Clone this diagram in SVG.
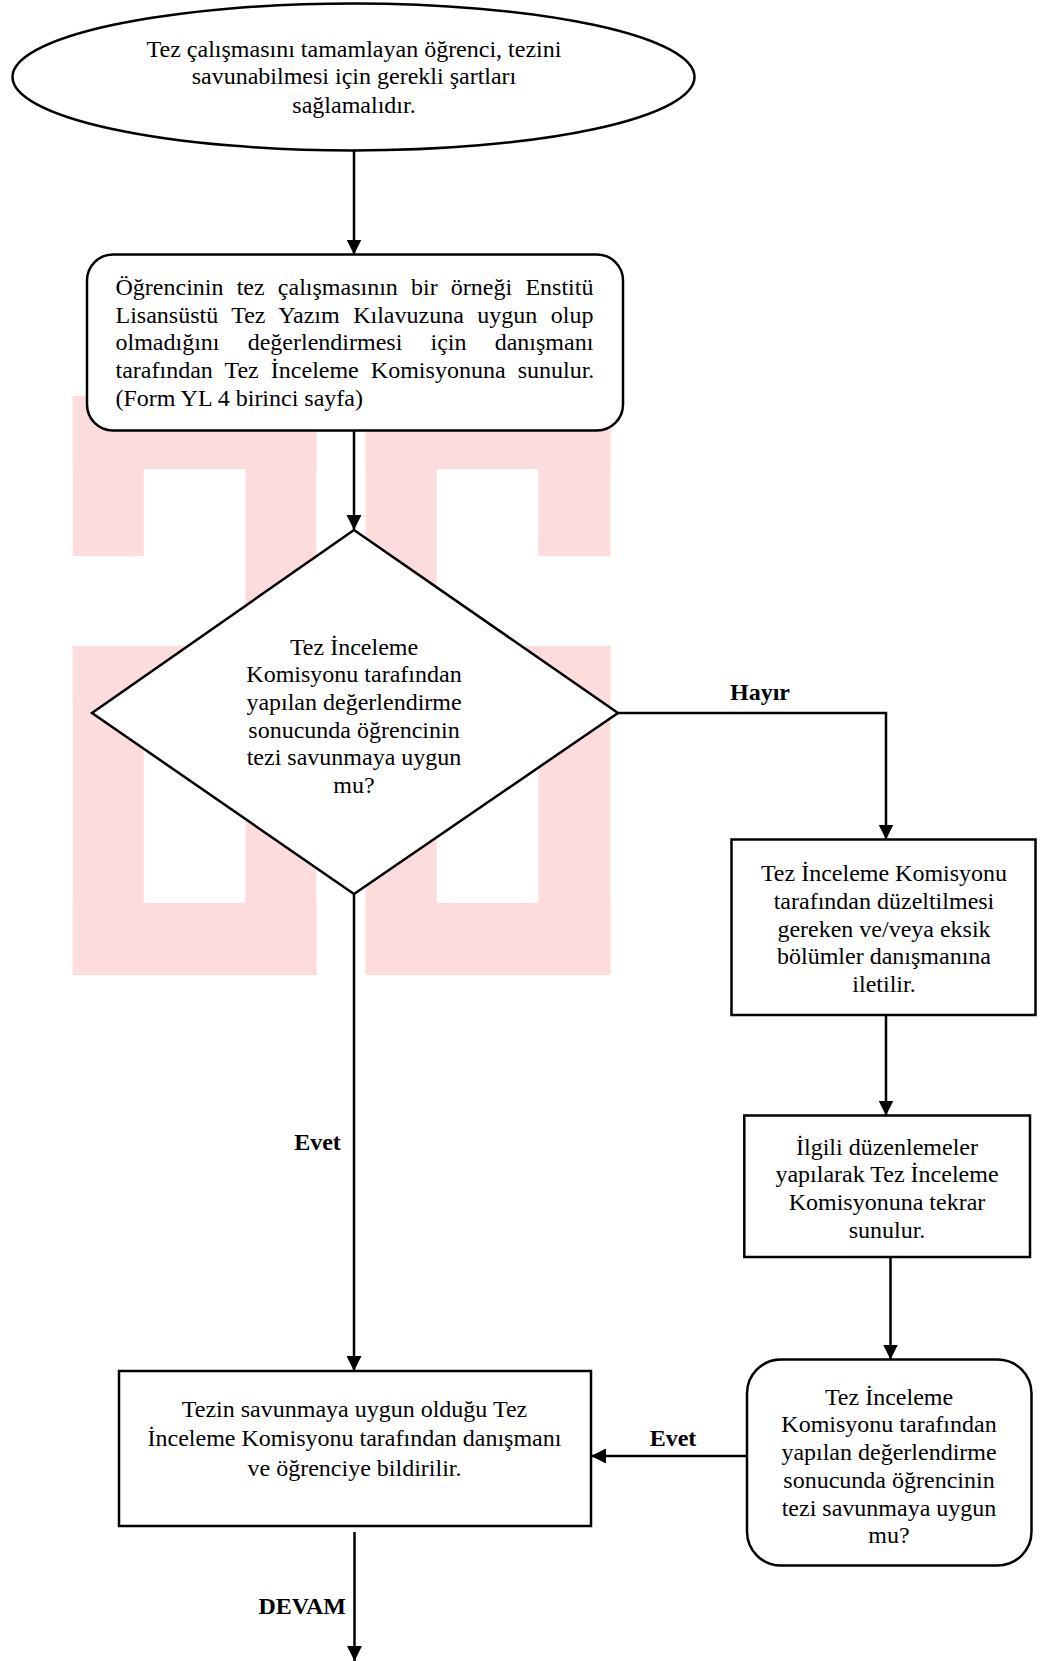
<svg xmlns="http://www.w3.org/2000/svg" width="1046" height="1661" viewBox="0 0 1046 1661">
<style>
.t{font-family:"Liberation Serif","Times New Roman",serif;font-size:24px;fill:#000}
.c{text-anchor:middle}
.b{font-weight:bold}
.shape{fill:#fff;stroke:#000;stroke-width:2.5}
.conn{stroke:#000;stroke-width:2.5;fill:none}
.wm{fill:#fddcdd}
</style>
<defs>
<marker id="ah" markerUnits="userSpaceOnUse" markerWidth="16" markerHeight="16" refX="15" refY="7.5" orient="auto">
<path d="M0,0 L15,7.5 L0,15 z" fill="#000"/>
</marker>
</defs>
<rect width="1046" height="1661" fill="#fff"/>
<g id="watermark">
<rect class="wm" x="72.7" y="396" width="243.7" height="73"/>
<rect class="wm" x="245.5" y="396" width="70.9" height="579"/>
<rect class="wm" x="72.7" y="396" width="70.9" height="160"/>
<rect class="wm" x="72.7" y="646" width="243.7" height="54"/>
<rect class="wm" x="72.7" y="646" width="70.9" height="329"/>
<rect class="wm" x="72.7" y="903" width="243.7" height="72"/>
<rect class="wm" x="365.6" y="396" width="244.8" height="73"/>
<rect class="wm" x="365.6" y="396" width="71.1" height="579"/>
<rect class="wm" x="538.3" y="396" width="72.1" height="160"/>
<rect class="wm" x="365.6" y="646" width="244.8" height="54"/>
<rect class="wm" x="538.3" y="646" width="72.1" height="329"/>
<rect class="wm" x="365.6" y="903" width="244.8" height="72"/>
</g>
<g id="connectors">
<line class="conn" x1="354" y1="150.5" x2="354" y2="254.5" marker-end="url(#ah)"/>
<line class="conn" x1="354" y1="430.5" x2="354" y2="530" marker-end="url(#ah)"/>
<polyline class="conn" points="618,713 886,713 886,839.5" marker-end="url(#ah)"/>
<line class="conn" x1="886" y1="1015" x2="886" y2="1115.5" marker-end="url(#ah)"/>
<line class="conn" x1="890.5" y1="1257" x2="890.5" y2="1359.5" marker-end="url(#ah)"/>
<line class="conn" x1="354" y1="894" x2="354" y2="1371" marker-end="url(#ah)"/>
<line class="conn" x1="747" y1="1456" x2="591" y2="1456" marker-end="url(#ah)"/>
<line class="conn" x1="354.5" y1="1532" x2="354.5" y2="1661" marker-end="url(#ah)"/>
<text class="t b c" x="760" y="700">Hayır</text>
<text class="t b c" x="317.5" y="1149.5">Evet</text>
<text class="t b c" x="673" y="1446">Evet</text>
<text class="t b" x="346" y="1614" text-anchor="end">DEVAM</text>
</g>
<g id="start">
<ellipse class="shape" cx="353.5" cy="77" rx="341" ry="73.5"/>
<text class="t c" x="354" y="56.7">Tez çalışmasını tamamlayan öğrenci, tezini</text>
<text class="t c" x="354" y="84.3">savunabilmesi için gerekli şartları</text>
<text class="t c" x="354" y="112.9">sağlamalıdır.</text>
</g>
<g id="submit">
<rect class="shape" x="87" y="254.5" width="536" height="176" rx="26"/>
<text class="t" x="115.5" y="295" word-spacing="7.2">Öğrencinin tez çalışmasının bir örneği Enstitü</text>
<text class="t" x="115.5" y="322.7" word-spacing="7.5">Lisansüstü Tez Yazım Kılavuzuna uygun olup</text>
<text class="t" x="115.5" y="350.4" word-spacing="22.2">olmadığını değerlendirmesi için danışmanı</text>
<text class="t" x="115.5" y="378.1" word-spacing="6.1">tarafından Tez İnceleme Komisyonuna sunulur.</text>
<text class="t" x="115.5" y="405.8">(Form YL 4 birinci sayfa)</text>
</g>
<g id="decision1">
<polygon class="shape" points="354,530 618,713 354,894 92,713"/>
<text class="t c" x="354" y="654.5">Tez İnceleme</text>
<text class="t c" x="354" y="682.2">Komisyonu tarafından</text>
<text class="t c" x="354" y="709.9">yapılan değerlendirme</text>
<text class="t c" x="354" y="737.6">sonucunda öğrencinin</text>
<text class="t c" x="354" y="765.3">tezi savunmaya uygun</text>
<text class="t c" x="354" y="793">mu?</text>
</g>
<g id="corrections">
<rect class="shape" x="731.5" y="839.5" width="304" height="175.5"/>
<text class="t c" x="884" y="881.3">Tez İnceleme Komisyonu</text>
<text class="t c" x="884" y="909">tarafından düzeltilmesi</text>
<text class="t c" x="884" y="936.7">gereken ve/veya eksik</text>
<text class="t c" x="884" y="964.4">bölümler danışmanına</text>
<text class="t c" x="884" y="992.1">iletilir.</text>
</g>
<g id="resubmit">
<rect class="shape" x="744.3" y="1115.5" width="285.7" height="141.5"/>
<text class="t c" x="887" y="1154.5">İlgili düzenlemeler</text>
<text class="t c" x="887" y="1182.2">yapılarak Tez İnceleme</text>
<text class="t c" x="887" y="1209.9">Komisyonuna tekrar</text>
<text class="t c" x="887" y="1237.6">sunulur.</text>
</g>
<g id="decision2">
<rect class="shape" x="747" y="1359.5" width="284.5" height="206" rx="34"/>
<text class="t c" x="889" y="1404.7">Tez İnceleme</text>
<text class="t c" x="889" y="1432.4">Komisyonu tarafından</text>
<text class="t c" x="889" y="1460.1">yapılan değerlendirme</text>
<text class="t c" x="889" y="1487.8">sonucunda öğrencinin</text>
<text class="t c" x="889" y="1515.5">tezi savunmaya uygun</text>
<text class="t c" x="889" y="1543.2">mu?</text>
</g>
<g id="approved">
<rect class="shape" x="119" y="1371" width="472" height="155"/>
<text class="t c" x="354.5" y="1416.5">Tezin savunmaya uygun olduğu Tez</text>
<text class="t c" x="354.5" y="1446">İnceleme Komisyonu tarafından danışmanı</text>
<text class="t c" x="354.5" y="1475.5">ve öğrenciye bildirilir.</text>
</g>
</svg>
